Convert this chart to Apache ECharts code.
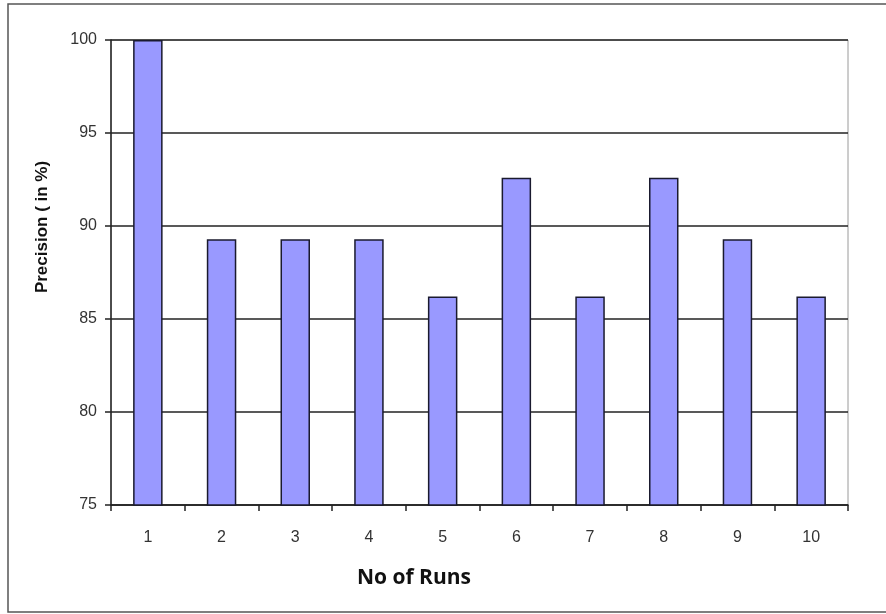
<!DOCTYPE html>
<html>
<head>
<meta charset="utf-8">
<script src="https://cdn.jsdelivr.net/npm/echarts@6/dist/echarts.min.js"></script>
<style>
  html, body { margin: 0; padding: 0; background: #ffffff; }
  #chart { width: 886px; height: 614px; }
</style>
</head>
<body>
<div id="chart"></div>
<script>
// Precision of each run
const runs = ['1', '2', '3', '4', '5', '6', '7', '8', '9', '10'];
const precision = [100, 89.29, 89.29, 89.29, 86.21, 92.59, 86.21, 92.59, 89.29, 86.21];

const yMin = 75;
const yMax = 100;
const yStep = 5;

const chart = echarts.init(document.getElementById('chart'), null, { renderer: 'canvas' });

chart.setOption({
  animation: false,
  backgroundColor: '#ffffff',
  grid: { left: 111, top: 40, right: 38, bottom: 109, show: true, borderColor: '#9a9a9a', borderWidth: 1 },
  graphic: [
    {
      type: 'rect',
      shape: { x: 8, y: 4, width: 900, height: 608 },
      style: { fill: 'none', stroke: '#555555', lineWidth: 1.5 },
      silent: true
    },
    {
      type: 'text',
      x: 42, y: 227,
      rotation: Math.PI / 2,
      style: {
        text: 'Precision ( in %)',
        fontFamily: 'Liberation Sans, Arial, sans-serif',
        fontWeight: 'bold',
        fontSize: 17,
        fill: '#111111',
        align: 'center',
        verticalAlign: 'middle'
      }
    },
    {
      type: 'text',
      x: 414, y: 578,
      style: {
        text: 'No of Runs',
        fontFamily: 'Open Sans, Liberation Sans, sans-serif',
        fontWeight: 'bold',
        fontSize: 21,
        fill: '#111111',
        align: 'center',
        verticalAlign: 'middle'
      }
    }
  ],
  xAxis: {
    type: 'category',
    data: runs,
    boundaryGap: true,
    axisLine: { show: true, lineStyle: { color: '#222222', width: 1.5 } },
    axisTick: { show: true, alignWithLabel: false, inside: false, length: 6, lineStyle: { color: '#222222', width: 1.5 } },
    axisLabel: {
      margin: 25,
      fontFamily: 'Liberation Sans, Arial, sans-serif',
      fontSize: 16,
      color: '#333333'
    },
    splitLine: { show: false }
  },
  yAxis: {
    type: 'value',
    min: yMin,
    max: yMax,
    interval: yStep,
    axisLine: { show: true, lineStyle: { color: '#222222', width: 1.5 } },
    axisTick: { show: true, length: 6, lineStyle: { color: '#222222', width: 1.5 } },
    axisLabel: {
      margin: 14,
      fontFamily: 'Liberation Sans, Arial, sans-serif',
      fontSize: 16,
      color: '#333333'
    },
    splitLine: { show: true, lineStyle: { color: '#222222', width: 1.5 } }
  },
  series: [
    {
      type: 'bar',
      data: precision,
      barWidth: '40%',
      itemStyle: { color: '#9999ff', borderColor: '#1a1a2e', borderWidth: 1.5 }
    }
  ]
});
</script>
</body>
</html>
